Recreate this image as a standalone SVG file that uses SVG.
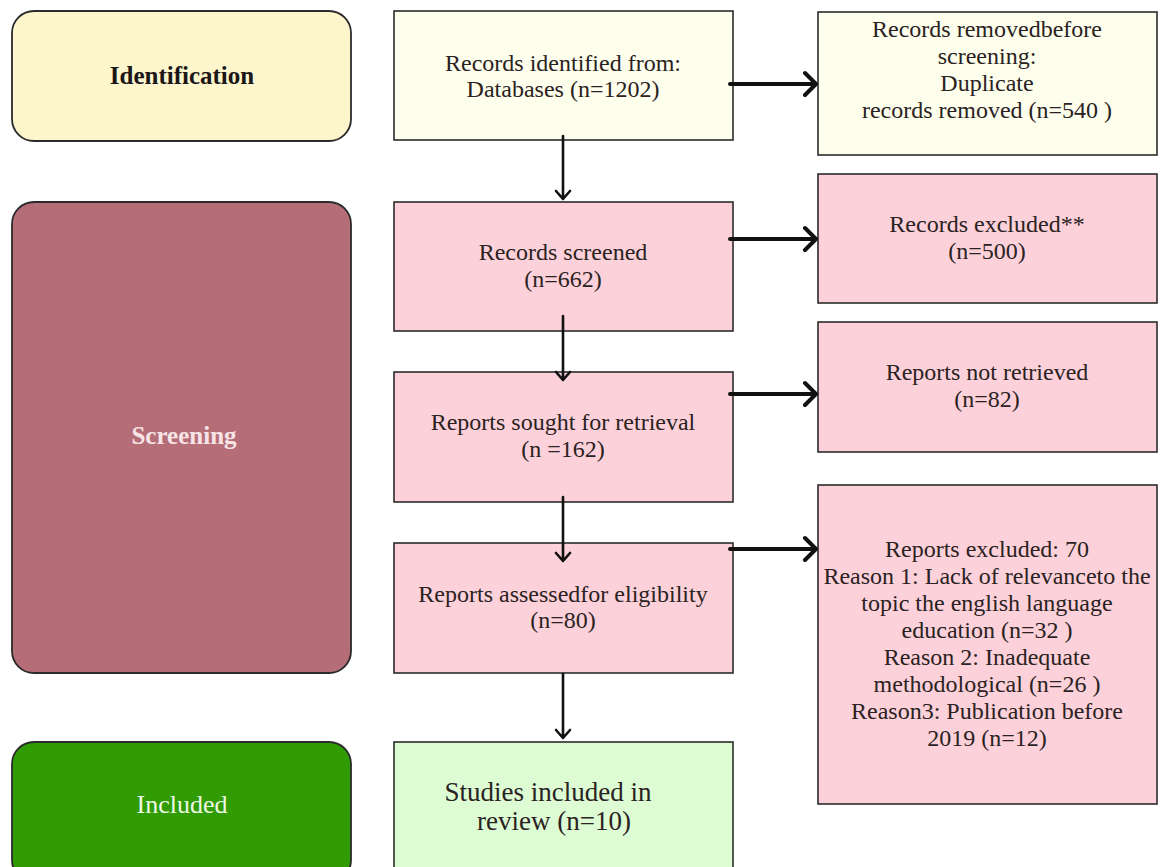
<svg xmlns="http://www.w3.org/2000/svg" width="1161" height="867" viewBox="0 0 1161 867">
<style>
  .box{stroke:#2b2b2b;stroke-width:1.6}
  .stage{stroke:#2b2b2b;stroke-width:1.8}
  .yel{fill:#fdf6cd}
  .ivory{fill:#fefeec}
  .pink{fill:#fdd1d9}
  .green{fill:#ddfcd4}
  .t{font-family:"Liberation Serif","Times New Roman",serif;font-size:24px;fill:#2a2222;text-anchor:middle}
  .t27{font-size:27px}
  .st{font-family:"Liberation Serif","Times New Roman",serif;text-anchor:middle}
  .harr{fill:none;stroke:#111;stroke-width:4;stroke-linecap:round;stroke-linejoin:round}
  .varr{fill:none;stroke:#111;stroke-width:2.6;stroke-linecap:round;stroke-linejoin:round}
</style>
<rect width="1161" height="867" fill="#ffffff"/>

<g id="identification">
  <rect class="stage yel" x="12" y="11" width="339" height="130" rx="22"/>
  <text class="st" x="182" y="84" font-size="25" font-weight="bold" fill="#1c1717">Identification</text>
</g>
<g id="screening">
  <rect class="stage" fill="#b56e77" x="12" y="202" width="339" height="471" rx="22"/>
  <text class="st" x="184" y="444" font-size="25" font-weight="bold" fill="#f7e4e7">Screening</text>
</g>
<g id="included">
  <rect class="stage" fill="#319b04" x="12" y="742" width="339" height="140" rx="22"/>
  <text class="st" x="182" y="813" font-size="26" fill="#eef8e4">Included</text>
</g>

<g id="records-identified">
  <rect class="box ivory" x="394" y="11" width="339" height="129"/>
  <text class="t" x="563" y="71">Records identified from:</text>
  <text class="t" x="563" y="97">Databases (n=1202)</text>
</g>
<g id="records-removed">
  <rect class="box ivory" x="818" y="12" width="339" height="143"/>
  <text class="t" x="987" y="37">Records removedbefore</text>
  <text class="t" x="987" y="64">screening:</text>
  <text class="t" x="987" y="91">Duplicate</text>
  <text class="t" x="987" y="118">records removed (n=540 )</text>
</g>
<g id="records-screened">
  <rect class="box pink" x="394" y="202" width="339" height="129"/>
  <text class="t" x="563" y="260">Records screened</text>
  <text class="t" x="563" y="287">(n=662)</text>
</g>
<g id="records-excluded">
  <rect class="box pink" x="818" y="174" width="339" height="129"/>
  <text class="t" x="987" y="232">Records excluded**</text>
  <text class="t" x="987" y="259">(n=500)</text>
</g>
<g id="reports-sought">
  <rect class="box pink" x="394" y="372" width="339" height="130"/>
  <text class="t" x="563" y="430">Reports sought for retrieval</text>
  <text class="t" x="563" y="457">(n =162)</text>
</g>
<g id="reports-not-retrieved">
  <rect class="box pink" x="818" y="322" width="339" height="130"/>
  <text class="t" x="987" y="380">Reports not retrieved</text>
  <text class="t" x="987" y="407">(n=82)</text>
</g>
<g id="reports-assessed">
  <rect class="box pink" x="394" y="543" width="339" height="130"/>
  <text class="t" x="563" y="602">Reports assessedfor eligibility</text>
  <text class="t" x="563" y="628">(n=80)</text>
</g>
<g id="reports-excluded">
  <rect class="box pink" x="818" y="485" width="339" height="319"/>
  <text class="t" x="987" y="557">Reports excluded: 70</text>
  <text class="t" x="987" y="584">Reason 1: Lack of relevanceto the</text>
  <text class="t" x="987" y="611">topic the english language</text>
  <text class="t" x="987" y="638">education (n=32 )</text>
  <text class="t" x="987" y="665">Reason 2: Inadequate</text>
  <text class="t" x="987" y="692">methodological (n=26 )</text>
  <text class="t" x="987" y="719">Reason3: Publication before</text>
  <text class="t" x="987" y="746">2019 (n=12)</text>
</g>
<g id="studies-included">
  <rect class="box green" x="394" y="742" width="339" height="140"/>
  <text class="t t27" x="548" y="801">Studies included in</text>
  <text class="t t27" x="554" y="830">review (n=10)</text>
</g>

<g id="connectors">
  <path class="varr" d="M563 136 V199 M556 191 L563 199 L570 191"/>
  <path class="varr" d="M563 316 V380 M556 372 L563 380 L570 372"/>
  <path class="varr" d="M563 497 V561 M556 553 L563 561 L570 553"/>
  <path class="varr" d="M563 674 V738 M556 730 L563 738 L570 730"/>
  <path class="harr" d="M730 84 H816 M805 73 L816 84 L805 95"/>
  <path class="harr" d="M730 239 H816 M805 228 L816 239 L805 250"/>
  <path class="harr" d="M730 394 H816 M805 383 L816 394 L805 405"/>
  <path class="harr" d="M730 549 H816 M805 538 L816 549 L805 560"/>
</g>
</svg>
